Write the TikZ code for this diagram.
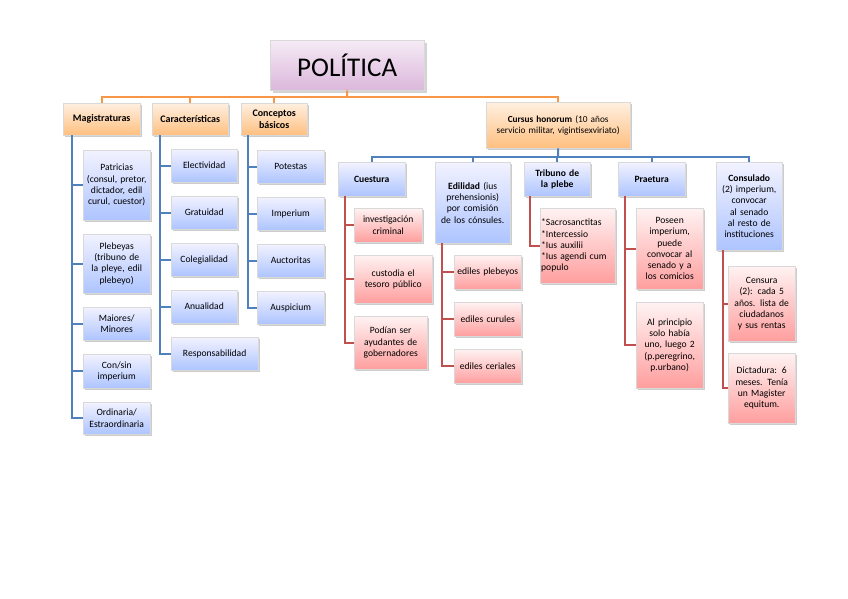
\documentclass[tikz,border=0pt]{standalone}
\usepackage{fontspec}
\setmainfont[HyphenChar=None]{Carlito}
\usetikzlibrary{shadows}
\definecolor{ol}{HTML}{F79646}
\definecolor{bl}{HTML}{4F81BD}
\definecolor{rl}{HTML}{C0504D}
\tikzset{
 base/.style={anchor=north west,inner sep=1pt,align=center,font=\fontsize{9.6}{11.3}\selectfont,drop shadow={shadow xshift=1.5pt,shadow yshift=-1.5pt,opacity=0.4}},
 ob/.style={base,draw=white!70!gray,top color=orange!12,bottom color=orange!50!white,font=\bfseries\fontsize{10}{11.5}\selectfont},
 bb/.style={base,draw=white!70!gray,top color=blue!5!white,bottom color=blue!25!cyan!15!white!80!blue},
 rb/.style={base,draw=white!70!gray,top color=red!5!white,bottom color=red!38!white},
 ol/.style={draw=ol,line width=2pt},
 bln/.style={draw=bl,line width=2pt},
 rln/.style={draw=rl,line width=2pt},
}
\newcommand{\bx}[7]{\node[#1,minimum width=#4,minimum height=#5,text width=#4-4] (#2) at (#3) {#7};}
\begin{document}
\begin{tikzpicture}[x=1pt,y=-1pt]
\useasboundingbox (0,0) rectangle (848,599);
\node[anchor=north west,draw=white!70!gray,top color=violet!8,bottom color=violet!28,minimum width=154,minimum height=50,font=\fontsize{27}{30}\selectfont,drop shadow={opacity=0.35}] (pol) at (270,40) {POLÍTICA};
% headers
\bx{ob}{mag}{63,103}{77}{32}{}{Magistraturas}
\bx{ob}{car}{152,103}{76}{32}{}{Características}
\bx{ob}{con}{241,103}{66}{32}{}{Conceptos básicos}
\node[ob,minimum width=144,minimum height=46,text width=142,font=\fontsize{9.3}{11.3}\selectfont] (cur) at (486,102) {\textbf{Cursus honorum} (10 años servicio militar, vigintisexviriato)};
\coordinate (top) at (347,97);
\draw[ol] (pol.south) -- (top);
\foreach \n in {mag,car,con,cur} \draw[ol] (top) -| (\n.north);
% Magistraturas
\bx{bb}{m1}{83,150}{67}{70}{}{Patricias (consul, pretor, dictador, edil curul, cuestor)}
\bx{bb}{m2}{83,234}{67}{59}{}{Plebeyas (tribuno de la pleye, edil plebeyo)}
\bx{bb}{m3}{83,307}{67}{33}{}{Maiores/ Minores}
\bx{bb}{m4}{83,354}{67}{34}{}{Con/sin imperium}
\bx{bb}{m5}{83,402}{67}{32}{}{Ordinaria/ Estraordinaria}
\coordinate (ms) at (72,135);
\foreach \n in {m1,m2,m3,m4,m5} \draw[bln] (ms) |- (\n.west);
% Caracteristicas
\bx{bb}{c1}{171,149}{66}{33}{}{Electividad}
\bx{bb}{c2}{171,196}{66}{33}{}{Gratuidad}
\bx{bb}{c3}{171,243}{66}{33}{}{Colegialidad}
\bx{bb}{c4}{171,290}{66}{33}{}{Anualidad}
\bx{bb}{c5}{171,337}{87}{33}{}{Responsabilidad}
\coordinate (cs) at (160,135);
\foreach \n in {c1,c2,c3,c4,c5} \draw[bln] (cs) |- (\n.west);
% Conceptos
\bx{bb}{k1}{257,150}{67}{33}{}{Potestas}
\bx{bb}{k2}{257,197}{67}{33}{}{Imperium}
\bx{bb}{k3}{257,244}{67}{33}{}{Auctoritas}
\bx{bb}{k4}{257,291}{67}{33}{}{Auspicium}
\coordinate (ks) at (248,135);
\foreach \n in {k1,k2,k3,k4} \draw[bln] (ks) |- (\n.west);
% Cursus children
\bx{bb}{cue}{338,162}{67}{34}{}{\textbf{Cuestura}}
\bx{bb}{edi}{435,162}{75}{81}{}{\textbf{Edilidad} (ius prehensionis) por comisión de los cónsules.}
\bx{bb}{tri}{524,162}{66}{34}{}{\textbf{Tribuno de la plebe}}
\bx{bb}{pra}{618,162}{67}{34}{}{\textbf{Praetura}}
\bx{bb}{cns}{716,162}{66}{88}{}{\textbf{Consulado} (2) imperium, convocar al senado al resto de instituciones}
\coordinate (bh) at (558,157);
\draw[bln] (cur.south) -- (bh);
\foreach \n in {cue,edi,tri,pra,cns} \draw[bln] (bh) -| (\n.north);
% Cuestura
\bx{rb}{q1}{354,208}{68}{34}{}{investigación criminal}
\bx{rb}{q2}{354,255}{78}{48}{}{custodia el tesoro público}
\bx{rb}{q3}{354,316}{73}{53}{}{Podían ser ayudantes de gobernadores}
\coordinate (qs) at (345,196);
\foreach \n in {q1,q2,q3} \draw[rln] (qs) |- (\n.west);
% Edilidad
\bx{rb}{e1}{454,255}{67}{34}{}{ediles plebeyos}
\bx{rb}{e2}{454,302}{67}{34}{}{ediles curules}
\bx{rb}{e3}{454,349}{67}{34}{}{ediles ceriales}
\coordinate (es) at (442,243);
\foreach \n in {e1,e2,e3} \draw[rln] (es) |- (\n.west);
% Tribuno
\node[rb,minimum width=75,minimum height=75,text width=73,align=left] (t1) at (540,208) {*Sacrosanctitas\\{}*Intercessio\\{}*Ius auxilii\\{}*Ius agendi cum populo};
\coordinate (ts) at (530,196);
\draw[rln] (ts) |- (t1.west);
% Praetura
\bx{rb}{p1}{636,208}{67}{81}{}{Poseen imperium, puede convocar al senado y a los comicios}
\bx{rb}{p2}{636,302}{67}{86}{}{Al principio solo había uno, luego 2 (p.peregrino, p.urbano)}
\coordinate (ps) at (625,196);
\foreach \n in {p1,p2} \draw[rln] (ps) |- (\n.west);
% Consulado
\bx{rb}{s1}{728,266}{67}{75}{}{Censura (2): cada 5 años. lista de ciudadanos y sus rentas}
\bx{rb}{s2}{728,353}{67}{70}{}{Dictadura: 6 meses. Tenía un Magister equitum.}
\coordinate (ss) at (723,250);
\foreach \n in {s1,s2} \draw[rln] (ss) |- (\n.west);
\end{tikzpicture}
\end{document}
